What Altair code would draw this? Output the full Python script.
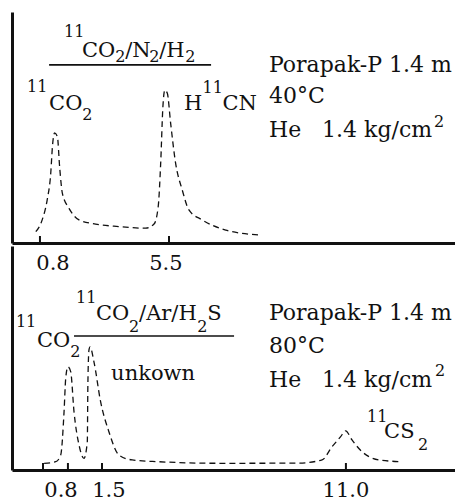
import altair as alt
import pandas as pd

# Recorder traces: distance along the chart paper (cm) vs detector response (% full scale)
top_dist = [0.86, 1.09, 1.27, 1.40, 1.46, 1.54, 1.64, 1.72, 1.82, 2.06, 2.42, 3.02, 3.86, 4.83,
            5.13, 5.28, 5.37, 5.45, 5.52, 5.61, 5.73, 5.91, 6.15, 6.39, 6.87, 7.72, 8.92]
top_resp = [4.9, 10.0, 18.6, 30.3, 41.7, 47.7, 46.0, 33.0, 21.5, 15.0, 10.0, 8.2, 7.1, 6.4,
            8.2, 15.7, 34.5, 59.0, 66.2, 64.8, 51.8, 34.5, 22.9, 14.3, 10.0, 5.6, 3.5]

bot_dist = [1.16, 1.58, 1.76, 1.88, 1.94, 2.02, 2.12, 2.24, 2.42, 2.60, 2.72, 2.74, 2.78, 2.82,
            2.96, 3.20, 3.50, 3.86, 4.34, 5.31, 7.48, 8.20, 10.37, 11.20, 11.56, 11.87, 12.05,
            12.28, 12.64, 13.25, 14.09]
bot_resp = [3.0, 3.7, 6.7, 26.0, 40.9, 46.1, 43.9, 26.0, 11.2, 5.2, 12.6, 37.9, 53.6, 55.0,
            48.3, 30.5, 17.1, 6.7, 4.5, 3.7, 3.0, 3.0, 3.1, 4.5, 10.4, 14.9, 17.5,
            13.4, 8.2, 4.5, 3.7]

# Event marks on the time axis and the retention times (min) written under them
top_marks = [1.01, 5.67]
top_times = ["0.8", "5.5"]
top_time_at = [1.48, 5.56]

bot_marks = [1.12, 2.02, 3.25, 12.06]
bot_times = ["0.8", "1.5", "11.0"]
bot_time_at = [1.77, 3.50, 12.06]

NB = "\u00a0"

# Annotation fragments: text, x (cm), y (% response)
# kind: m = formula text, c = column conditions, s = sub/superscript
top_note_text = ["11", "CO", "2", "/N", "2", "/H", "2",
                 "11", "CO", "2",
                 "H", "11", "CN",
                 "Porapak-P 1.4 m", "40°C", "He" + NB * 3 + "1.4 kg/cm", "2"]
top_note_x = [1.88, 2.53, 3.73, 4.09, 4.96, 5.32, 6.26,
              0.54, 1.34, 2.54,
              6.21, 6.88, 7.60,
              9.28, 9.28, 9.28, 15.24]
top_note_y = [89.2, 80.5, 78.4, 80.5, 78.4, 80.5, 78.4,
              65.4, 57.6, 53.2,
              57.6, 64.9, 57.6,
              74.0, 60.6, 45.9, 50.2]
top_note_kind = ["s", "m", "s", "m", "s", "m", "s",
                 "s", "m", "s",
                 "m", "s", "m",
                 "c", "c", "c", "s"]
top_bar = (1.34, 7.19, 77.1)

bot_note_text = ["11", "CO", "2", "/Ar/H", "2", "S",
                 "11", "CO", "2",
                 "unkown",
                 "Porapak-P 1.4 m", "80°C", "He" + NB * 3 + "1.4 kg/cm", "2",
                 "11", "CS", "2"]
bot_note_x = [2.31, 3.03, 4.23, 4.59, 6.69, 7.05,
              0.14, 0.90, 2.10,
              3.58,
              9.28, 9.28, 9.28, 15.28,
              12.82, 13.44, 14.66]
bot_note_y = [74.6, 67.0, 61.6, 67.0, 61.6, 67.0,
              63.8, 54.9, 50.4,
              40.2,
              67.0, 52.2, 37.1, 42.0,
              21.4, 14.3, 8.9]
bot_note_kind = ["s", "m", "s", "m", "s", "m",
                 "s", "m", "s",
                 "m",
                 "c", "c", "c", "s",
                 "s", "m", "s"]
bot_bar = (2.24, 8.02, 59.8)

FONT = "DejaVu Serif"
INK = "#111111"
W = 443
SIZES = {"m": 21, "c": 22, "s": 16}

xs = alt.Scale(domain=[0, 16], nice=False, zero=False)
ys = alt.Scale(domain=[0, 100], nice=False, zero=False)
x_axis = alt.Axis(title=None, labels=False, ticks=False, grid=False,
                  domainColor=INK, domainWidth=3)
y_axis = alt.Axis(title=None, labels=False, ticks=False, grid=False,
                  domainColor=INK, domainWidth=3)


def X(field):
    return alt.X(field, type="quantitative", scale=xs, axis=x_axis)


def Y(field):
    return alt.Y(field, type="quantitative", scale=ys, axis=y_axis)


def panel(dist, resp, texts, xs_, ys_, kinds, bar, marks, times, time_at, h, label_base):
    trace = alt.Chart(pd.DataFrame({"d": dist, "r": resp})).mark_line(
        color=INK, strokeWidth=1.3, strokeDash=[6, 4], interpolate="monotone"
    ).encode(x=X("d"), y=Y("r"))

    notes = pd.DataFrame({"t": texts, "x": xs_, "y": ys_, "k": kinds})
    text_layers = [
        alt.Chart(notes).transform_filter(alt.datum.k == kind).mark_text(
            align="left", baseline="alphabetic", font=FONT, fontSize=size, color=INK
        ).encode(x=X("x"), y=Y("y"), text="t:N")
        for kind, size in SIZES.items()
    ]

    underline = alt.Chart(pd.DataFrame({"a": [bar[0]], "b": [bar[1]], "y": [bar[2]]})).mark_rule(
        color=INK, strokeWidth=1.6
    ).encode(x=X("a"), x2="b:Q", y=Y("y"))

    ticks = alt.Chart(pd.DataFrame({"m": marks})).mark_rule(color=INK, strokeWidth=2).encode(
        x=X("m"), y=alt.value(h), y2=alt.value(h - 7)
    )
    tick_text = alt.Chart(pd.DataFrame({"p": time_at, "t": times})).mark_text(
        align="center", baseline="alphabetic", font=FONT, fontSize=21, color=INK
    ).encode(x=X("p"), y=alt.value(label_base), text="t:N")

    return alt.layer(trace, underline, *text_layers, ticks, tick_text).properties(width=W, height=h)


top = panel(top_dist, top_resp, top_note_text, top_note_x, top_note_y, top_note_kind,
            top_bar, top_marks, top_times, top_time_at, 231, 258)
bottom = panel(bot_dist, bot_resp, bot_note_text, bot_note_x, bot_note_y, bot_note_kind,
               bot_bar, bot_marks, bot_times, bot_time_at, 224, 251)

chart = alt.vconcat(top, bottom, spacing=3, bounds="flush").configure_view(
    stroke=None
).properties(
    padding={"left": 12, "top": 12, "right": 0, "bottom": 0}, background="white"
)

chart.save("out.html", embed_options={"renderer": "svg", "actions": False})
